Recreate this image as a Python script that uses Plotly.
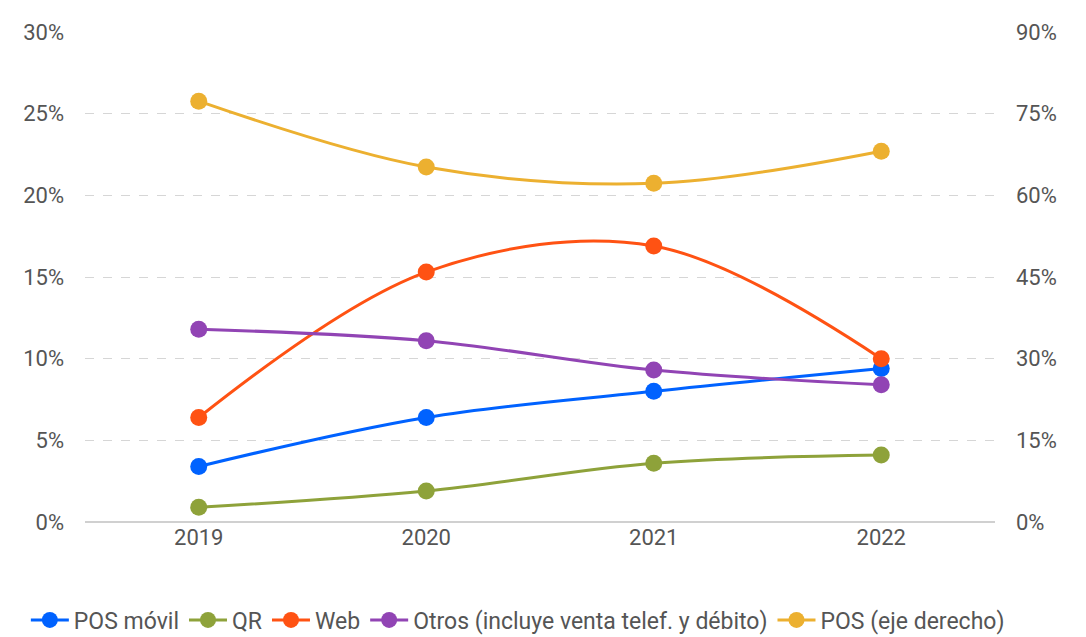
import plotly.graph_objects as go

years = ["2019", "2020", "2021", "2022"]
pos_movil = [3.4, 6.4, 8.0, 9.4]
qr = [0.9, 1.9, 3.6, 4.1]
web = [6.4, 15.3, 16.9, 10.0]
otros = [11.8, 11.1, 9.3, 8.4]
pos_right = [77.3, 65.2, 62.2, 68.1]

left_ticks = [0, 5, 10, 15, 20, 25, 30]
right_ticks = [0, 15, 30, 45, 60, 75, 90]

series = [
    ("POS móvil", pos_movil, "#0062FF", "y"),
    ("QR", qr, "#8EA23A", "y"),
    ("Web", web, "#FF5213", "y"),
    ("Otros (incluye venta telef. y débito)", otros, "#9144B4", "y"),
    ("POS (eje derecho)", pos_right, "#ECB030", "y2"),
]

fig = go.Figure()
for name, vals, color, axis in series:
    fig.add_trace(go.Scatter(
        x=years, y=vals, name=name, yaxis=axis,
        mode="lines+markers",
        line=dict(color=color, width=3, shape="spline", smoothing=1),
        marker=dict(color=color, size=17),
        hovertemplate="%{y:.1f}%<extra>" + name + "</extra>",
    ))

font_color = "#555555"
tick_font = dict(family="Roboto", size=22, color=font_color)
fig.update_layout(
    width=1086, height=637,
    margin=dict(l=85, r=91, t=32, b=115, autoexpand=False),
    paper_bgcolor="white", plot_bgcolor="white",
    font=dict(family="Roboto", size=22, color=font_color),
    showlegend=True,
    legend=dict(
        orientation="h", x=-0.065, xanchor="left",
        y=-0.2, yanchor="middle",
        font=dict(family="Roboto", size=23, color=font_color),
        itemwidth=38, tracegroupgap=0,
        traceorder="normal",
    ),
    xaxis=dict(
        type="category", range=[-0.5, 3.5],
        showgrid=False, showline=False, ticks="",
        tickfont=tick_font,
    ),
    yaxis=dict(
        range=[0, 30], tickmode="array", tickvals=left_ticks,
        ticktext=[f"{v}%" for v in left_ticks],
        showgrid=True, gridcolor="#D6D6D6", griddash="dash", gridwidth=1,
        zeroline=True, zerolinecolor="#D0D0D0", zerolinewidth=2,
        showline=False, ticks="", ticklabelstandoff=20,
        tickfont=tick_font,
    ),
    yaxis2=dict(
        range=[0, 90], tickmode="array", tickvals=right_ticks,
        ticktext=[f"{v}%" for v in right_ticks],
        overlaying="y", side="right", showgrid=False, zeroline=False,
        showline=False, ticks="", ticklabelstandoff=20,
        tickfont=tick_font,
    ),
)

fig.write_html("out.html")
